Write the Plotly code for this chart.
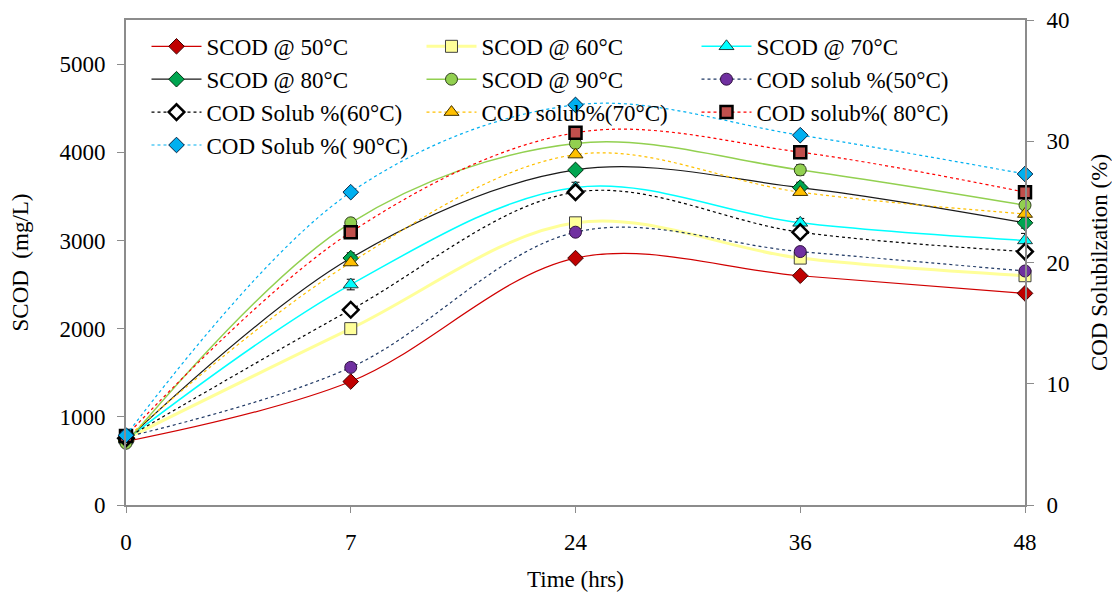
import plotly.graph_objects as go

time_labels = ["0", "7", "24", "36", "48"]

scod_50 = [720, 1400, 2800, 2600, 2400]
scod_60 = [750, 2000, 3200, 2800, 2600]
scod_70 = [740, 2500, 3600, 3200, 3000]
scod_80 = [730, 2800, 3800, 3600, 3200]
scod_90 = [700, 3200, 4100, 3800, 3400]

err_50 = [20, 30, 30, 30, 30]
err_60 = [20, 30, 40, 30, 30]
err_70 = [20, 60, 60, 50, 80]
err_80 = [20, 60, 40, 60, 60]
err_90 = [20, 50, 40, 60, 40]

sol_50 = [5.6, 11.35, 22.5, 20.9, 19.3]
sol_60 = [5.5, 16.1, 25.8, 22.5, 20.9]
sol_70 = [5.5, 20.0, 28.9, 25.8, 24.0]
sol_80 = [5.7, 22.5, 30.7, 29.1, 25.8]
sol_90 = [5.75, 25.8, 33.0, 30.5, 27.3]

FONT = "Liberation Serif"
FS = 23

series = [
    ("SCOD @ 50°C", scod_50, "y", "#d00000", 1.2, "solid", "diamond", "#c00000", "#400000", 1, err_50),
    ("SCOD @ 60°C", scod_60, "y", "#ffff99", 3, "solid", "square", "#ffff99", "#404040", 1, err_60),
    ("SCOD @ 70°C", scod_70, "y", "#00ffff", 1.5, "solid", "triangle-up", "#00ffff", "#204040", 1, err_70),
    ("SCOD @ 80°C", scod_80, "y", "#1a1a1a", 1.2, "solid", "diamond", "#00a550", "#003010", 1, err_80),
    ("SCOD @ 90°C", scod_90, "y", "#92d050", 1.5, "solid", "circle", "#92d050", "#304020", 1, err_90),
    ("COD solub %(50°C)", sol_50, "y2", "#1f3864", 1.2, "dot", "circle", "#7030a0", "#301040", 1, None),
    ("COD Solub %(60°C)", sol_60, "y2", "#000000", 1.2, "dot", "diamond", "#ffffff", "#000000", 2.5, None),
    ("COD solub%(70°C)", sol_70, "y2", "#ffc000", 1.2, "dot", "triangle-up", "#ffc000", "#403000", 1, None),
    ("COD solub%( 80°C)", sol_80, "y2", "#ff0000", 1.2, "dot", "square", "#c0504d", "#000000", 2.5, None),
    ("COD Solub %( 90°C)", sol_90, "y2", "#00b0f0", 1.2, "dot", "diamond", "#00b0f0", "#002040", 1, None),
]

fig = go.Figure()
for name, y, ax, lc, lw, dash, sym, fc, oc, ow, err in series:
    kw = {}
    if err is not None:
        kw["error_y"] = dict(type="data", array=err, visible=True, color="#000000",
                             thickness=1, width=4)
    fig.add_trace(go.Scatter(
        x=time_labels, y=y, name=name, yaxis=ax, mode="lines+markers",
        line=dict(color=lc, width=lw, dash=dash, shape="spline", smoothing=1.0),
        marker=dict(symbol=sym, color=fc, size=12 if sym != "triangle-up" else 13,
                    line=dict(color=oc, width=ow)),
        cliponaxis=False, **kw))

fig.update_layout(
    width=1112, height=592,
    margin=dict(l=126, r=87, t=20, b=87, autoexpand=False),
    paper_bgcolor="white", plot_bgcolor="white",
    font=dict(family=FONT, size=FS, color="#000000"),
    showlegend=True,
    legend=dict(orientation="h", x=0.0228, y=0.99, xanchor="left", yanchor="top",
                entrywidth=210, entrywidthmode="pixels", bgcolor="rgba(0,0,0,0)",
                font=dict(family=FONT, size=FS), itemwidth=50, tracegroupgap=0),
    xaxis=dict(type="category", range=[0, 4], showgrid=False, zeroline=False,
               showline=True, linecolor="#8c8c8c", linewidth=2, mirror=True,
               ticks="outside", ticklen=6, tickcolor="#8c8c8c", automargin=False,
               ticklabelstandoff=9,
               title=dict(text="Time (hrs)", font=dict(size=FS), standoff=24),
               tickfont=dict(size=FS)),
    yaxis=dict(range=[0, 5500], tickvals=[0, 1000, 2000, 3000, 4000, 5000],
               showgrid=False, zeroline=False, showline=True, linecolor="#8c8c8c",
               linewidth=2, ticks="outside", ticklen=7, tickcolor="#8c8c8c", automargin=False,
               ticklabelstandoff=7,
               title=dict(text="SCOD  (mg/L)", font=dict(size=FS), standoff=24),
               tickfont=dict(size=FS)),
    yaxis2=dict(range=[0, 40], tickvals=[0, 10, 20, 30, 40], overlaying="y", side="right",
                showgrid=False, zeroline=False, showline=True, linecolor="#8c8c8c",
                linewidth=2, ticks="outside", ticklen=7, tickcolor="#8c8c8c", automargin=False,
                ticklabelstandoff=8,
                title=dict(text="COD Solubilzation (%)", font=dict(size=FS), standoff=24),
                tickfont=dict(size=FS)),
)

fig.write_html("out.html", config={"displayModeBar": False},
               post_script="document.body.style.margin='0';")
